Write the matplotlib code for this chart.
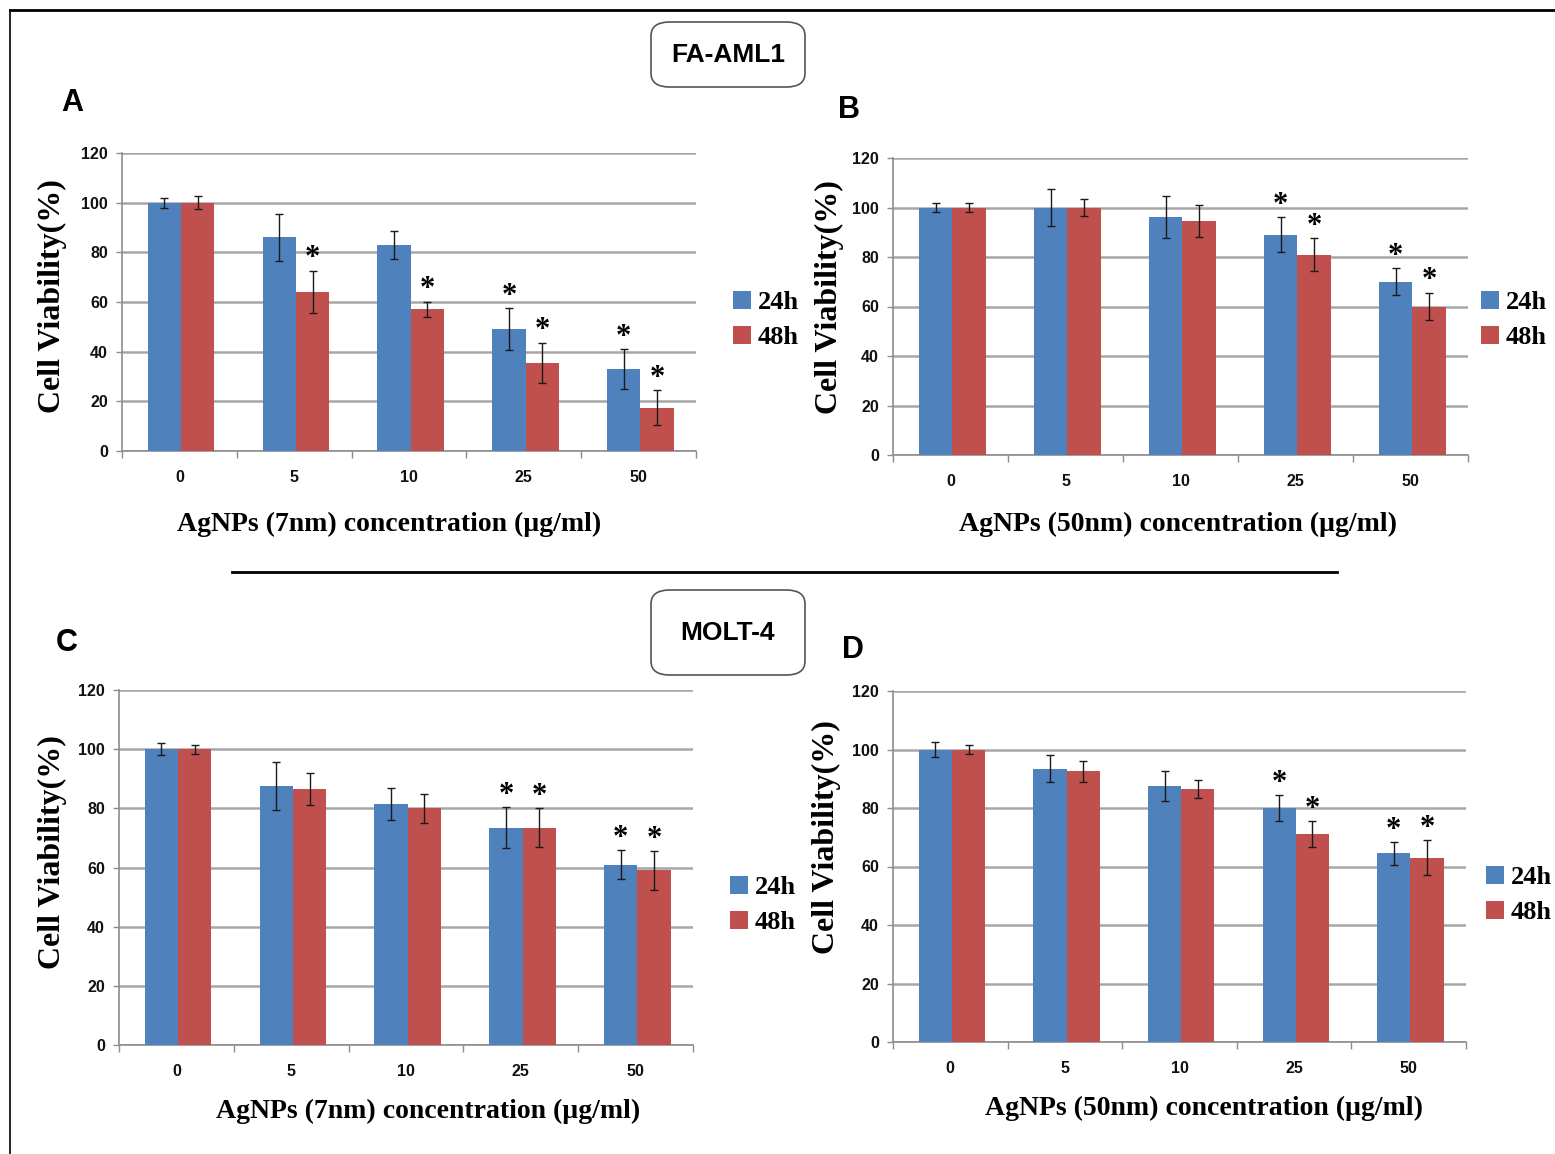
import matplotlib
matplotlib.use("Agg")
import matplotlib.pyplot as plt
from matplotlib.lines import Line2D
from matplotlib.patches import FancyBboxPatch, Patch
import numpy as np

W, H = 1555, 1154
concentrations = ["0", "5", "10", "25", "50"]
series_labels = ["24h", "48h"]

# Panel A: FA-AML1, AgNPs 7nm
A_24 = [100, 86, 83, 49, 33]
A_24_err = [2, 9.5, 5.5, 8.5, 8]
A_48 = [100, 64, 57, 35.5, 17.5]
A_48_err = [2.5, 8.5, 3, 8, 7]
A_24_sig = [0, 0, 0, 1, 1]
A_48_sig = [0, 1, 1, 1, 1]

# Panel B: FA-AML1, AgNPs 50nm
B_24 = [100, 100, 96, 89, 70]
B_24_err = [2, 7.5, 8.5, 7, 5.5]
B_48 = [100, 100, 94.5, 81, 60]
B_48_err = [2, 3.5, 6.5, 6.5, 5.5]
B_24_sig = [0, 0, 0, 1, 1]
B_48_sig = [0, 0, 0, 1, 1]

# Panel C: MOLT-4, AgNPs 7nm
C_24 = [100, 87.5, 81.5, 73.5, 61]
C_24_err = [2, 8, 5.5, 7, 5]
C_48 = [100, 86.5, 80, 73.5, 59]
C_48_err = [1.5, 5.5, 5, 6.5, 6.5]
C_24_sig = [0, 0, 0, 1, 1]
C_48_sig = [0, 0, 0, 1, 1]

# Panel D: MOLT-4, AgNPs 50nm
D_24 = [100, 93.5, 87.5, 80, 64.5]
D_24_err = [2.5, 4.5, 5, 4.5, 4]
D_48 = [100, 92.5, 86.5, 71, 63]
D_48_err = [1.5, 3.5, 3, 4.5, 6]
D_24_sig = [0, 0, 0, 1, 1]
D_48_sig = [0, 0, 0, 1, 1]

BLUE = "#4F81BD"
RED = "#C0504D"
GRID = "#A6A6A6"
AXC = "#8C8C8C"

SERIF = ["Liberation Serif", "DejaVu Serif"]
SANS = ["Liberation Sans", "DejaVu Sans"]

fig = plt.figure(figsize=(W / 100, H / 100), dpi=100)


def add_ax(l, t, r, b):
    return fig.add_axes([l / W, 1 - b / H, (r - l) / W, (b - t) / H])


def fx(x):
    return x / W


def fy(y):
    return 1 - y / H


def panel(box, d24, e24, d48, e48, s24, s48, xlabel, xl_pos, yl_pos, leg_pos):
    ax = add_ax(*box)
    x = np.arange(len(concentrations))
    w = 0.29
    ax.bar(x - w / 2 + 0.015, d24, w, color=BLUE, zorder=3)
    ax.bar(x + w / 2 + 0.015, d48, w, color=RED, zorder=3)
    ax.errorbar(x - w / 2 + 0.015, d24, yerr=e24, fmt="none", ecolor="#1a1a1a",
                elinewidth=1, capsize=3, capthick=1, zorder=4)
    ax.errorbar(x + w / 2 + 0.015, d48, yerr=e48, fmt="none", ecolor="#1a1a1a",
                elinewidth=1, capsize=3, capthick=1, zorder=4)
    for xi, v, e, s in zip(x - w / 2 + 0.015, d24, e24, s24):
        if s:
            ax.text(xi, v + e - 1.0, "*", ha="center", va="bottom", fontsize=22,
                    fontweight="bold", family=SERIF, zorder=5)
    for xi, v, e, s in zip(x + w / 2 + 0.015, d48, e48, s48):
        if s:
            ax.text(xi, v + e - 1.0, "*", ha="center", va="bottom", fontsize=22,
                    fontweight="bold", family=SERIF, zorder=5)
    ax.set_xlim(-0.5, len(concentrations) - 0.5)
    ax.set_ylim(0, 120)
    ax.set_yticks(np.arange(0, 121, 20))
    ax.set_xticks(x)
    ax.set_xticklabels(concentrations)
    ax.set_xticks(np.arange(-0.5, len(concentrations), 1.0), minor=True)
    ax.tick_params(axis="x", which="major", length=0, pad=14)
    ax.tick_params(axis="x", which="minor", length=5, width=1, color=AXC, direction="out")
    ax.tick_params(axis="y", which="major", length=4, width=1, color=AXC, pad=6)
    for lab in ax.get_xticklabels() + ax.get_yticklabels():
        lab.set_family(SANS)
        lab.set_fontweight("bold")
        lab.set_fontsize(11.5)
        lab.set_color("#111111")
    ax.yaxis.grid(True, color=GRID, linewidth=1.8, zorder=0)
    ax.set_axisbelow(True)
    for sp in ["top", "right"]:
        ax.spines[sp].set_visible(False)
    for sp in ["left", "bottom"]:
        ax.spines[sp].set_color(AXC)
        ax.spines[sp].set_linewidth(1.2)
    fig.text(fx(xl_pos[0]), fy(xl_pos[1]), xlabel, ha="center", va="center",
             fontsize=20, fontweight="bold", family=SERIF)
    fig.text(fx(yl_pos[0]), fy(yl_pos[1]), "Cell Viability(%)", ha="center", va="center",
             rotation=90, fontsize=23, fontweight="bold", family=SERIF)
    handles = [Patch(facecolor=BLUE), Patch(facecolor=RED)]
    fig.legend(handles, series_labels, loc="center left",
               bbox_to_anchor=(fx(leg_pos[0]), fy(leg_pos[1])), frameon=False,
               handlelength=0.7, handleheight=0.7, handletextpad=0.25,
               labelspacing=0.45, borderpad=0, borderaxespad=0,
               prop={"family": SERIF, "weight": "bold", "size": 19})
    return ax


panel((122, 153, 696, 451), A_24, A_24_err, A_48, A_48_err, A_24_sig, A_48_sig,
      "AgNPs (7nm) concentration (\u00b5g/ml)", (389, 524), (52, 296), (733, 320))
panel((893, 158, 1468, 455), B_24, B_24_err, B_48, B_48_err, B_24_sig, B_48_sig,
      "AgNPs (50nm) concentration (\u00b5g/ml)", (1178, 524), (829, 297), (1481, 320))
panel((119, 690, 693, 1045), C_24, C_24_err, C_48, C_48_err, C_24_sig, C_48_sig,
      "AgNPs (7nm) concentration (\u00b5g/ml)", (428, 1111), (52, 852), (730, 905))
panel((893, 691, 1466, 1042), D_24, D_24_err, D_48, D_48_err, D_24_sig, D_48_sig,
      "AgNPs (50nm) concentration (\u00b5g/ml)", (1204, 1108), (826, 837), (1486, 895))

# panel letters
for letter, (px, py) in {"A": (72, 103), "B": (849, 110), "C": (67, 643), "D": (853, 650)}.items():
    fig.text(fx(px), fy(py), letter, ha="center", va="center", fontsize=22,
             fontweight="bold", family=SANS)

# cell-line boxes
for label, (l, t, r, b) in {"FA-AML1": (651, 22, 805, 87), "MOLT-4": (651, 590, 805, 675)}.items():
    box = FancyBboxPatch((fx(l), fy(b)), fx(r - l), (b - t) / H,
                         boxstyle="round,pad=0,rounding_size=0.012",
                         transform=fig.transFigure, facecolor="white",
                         edgecolor="#555555", linewidth=1.2)
    fig.add_artist(box)
    fig.text(fx((l + r) / 2), fy((t + b) / 2), label, ha="center", va="center",
             fontsize=19, fontweight="bold", family=SANS)

# frame and separator
fig.add_artist(Line2D([fx(10), fx(1555)], [fy(10), fy(10)], color="black", linewidth=2,
                      transform=fig.transFigure))
fig.add_artist(Line2D([fx(10), fx(10)], [fy(10), fy(1154)], color="black", linewidth=1.2,
                      transform=fig.transFigure))
fig.add_artist(Line2D([fx(232), fx(1337)], [fy(572), fy(572)], color="black", linewidth=2,
                      transform=fig.transFigure))

fig.savefig("out.png", dpi=100)
